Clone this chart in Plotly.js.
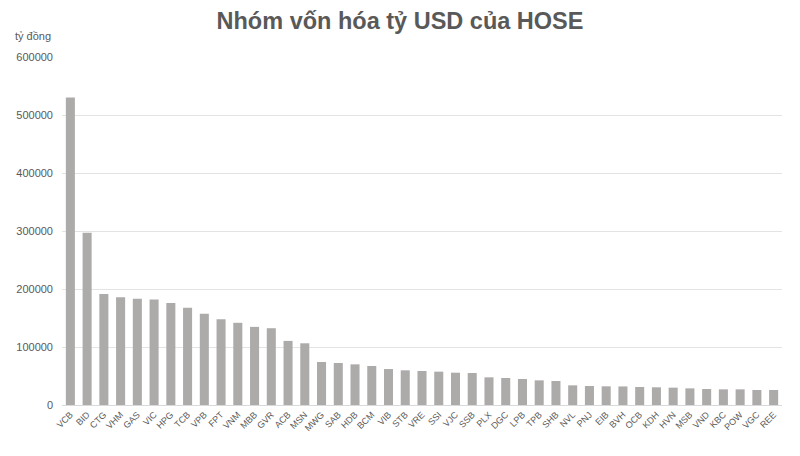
<!DOCTYPE html>
<html>
<head>
<meta charset="utf-8">
<script src="https://cdn.plot.ly/plotly-3.0.1.min.js"></script>
<style>html,body{margin:0;padding:0;background:#fff;}#chart{width:800px;height:456px;}</style>
</head>
<body>
<div id="chart"></div>
<script>
const tickers = ["VCB","BID","CTG","VHM","GAS","VIC","HPG","TCB","VPB","FPT","VNM","MBB","GVR","ACB","MSN","MWG","SAB","HDB","BCM","VIB","STB","VRE","SSI","VJC","SSB","PLX","DGC","LPB","TPB","SHB","NVL","PNJ","EIB","BVH","OCB","KDH","HVN","MSB","VND","KBC","POW","VGC","REE"];
const marketCap = [530000,297000,191400,185700,183000,182000,176000,167700,157400,148000,141700,134700,132400,110500,106400,74100,72400,70100,67200,62000,59800,58600,57500,55700,55200,47700,46600,44800,42500,41400,33900,32800,32200,32000,31000,30500,29900,28700,27600,27000,27000,25900,25900];
const yTicks = [0,100000,200000,300000,400000,500000,600000];
const titleText = "Nhóm vốn hóa tỷ USD của HOSE";
const unitText = "tỷ đồng";

const data = [{
  type: "bar",
  x: tickers,
  y: marketCap,
  marker: {color: "#ADAAAA"},
  hoverinfo: "x+y"
}];

const layout = {
  width: 800, height: 456,
  margin: {l: 62, r: 18, t: 57, b: 51},
  paper_bgcolor: "#fff", plot_bgcolor: "#fff",
  bargap: 0.46,
  showlegend: false,
  font: {family: "Liberation Sans, Arial, sans-serif", color: "#595959"},
  title: {text: titleText, x: 0.5, xanchor: "center", y: 0.955, yanchor: "middle",
          font: {size: 23.5, color: "#595959", family: "Liberation Sans, Arial, sans-serif", weight: "bold"}},
  xaxis: {
    tickangle: -45, tickfont: {size: 9, color: "#595959"},
    showline: true, linecolor: "#D9D9D9", linewidth: 1,
    showgrid: false, ticks: "", automargin: false
  },
  yaxis: {
    range: [0, 600000], tickvals: yTicks, ticktext: yTicks.map(String),
    tickfont: {size: 11, color: "#595959"},
    ticklabelstandoff: 8,
    showgrid: true, gridcolor: "#E3E3E3", gridwidth: 1,
    zeroline: false, showline: false, ticks: "", automargin: false
  },
  annotations: [{
    text: unitText, xref: "paper", yref: "paper", x: -0.068, y: 1.06,
    xanchor: "left", yanchor: "middle", showarrow: false,
    font: {size: 11, color: "#595959"}
  }]
};

Plotly.newPlot("chart", data, layout, {displayModeBar: false, staticPlot: true});
</script>
</body>
</html>
